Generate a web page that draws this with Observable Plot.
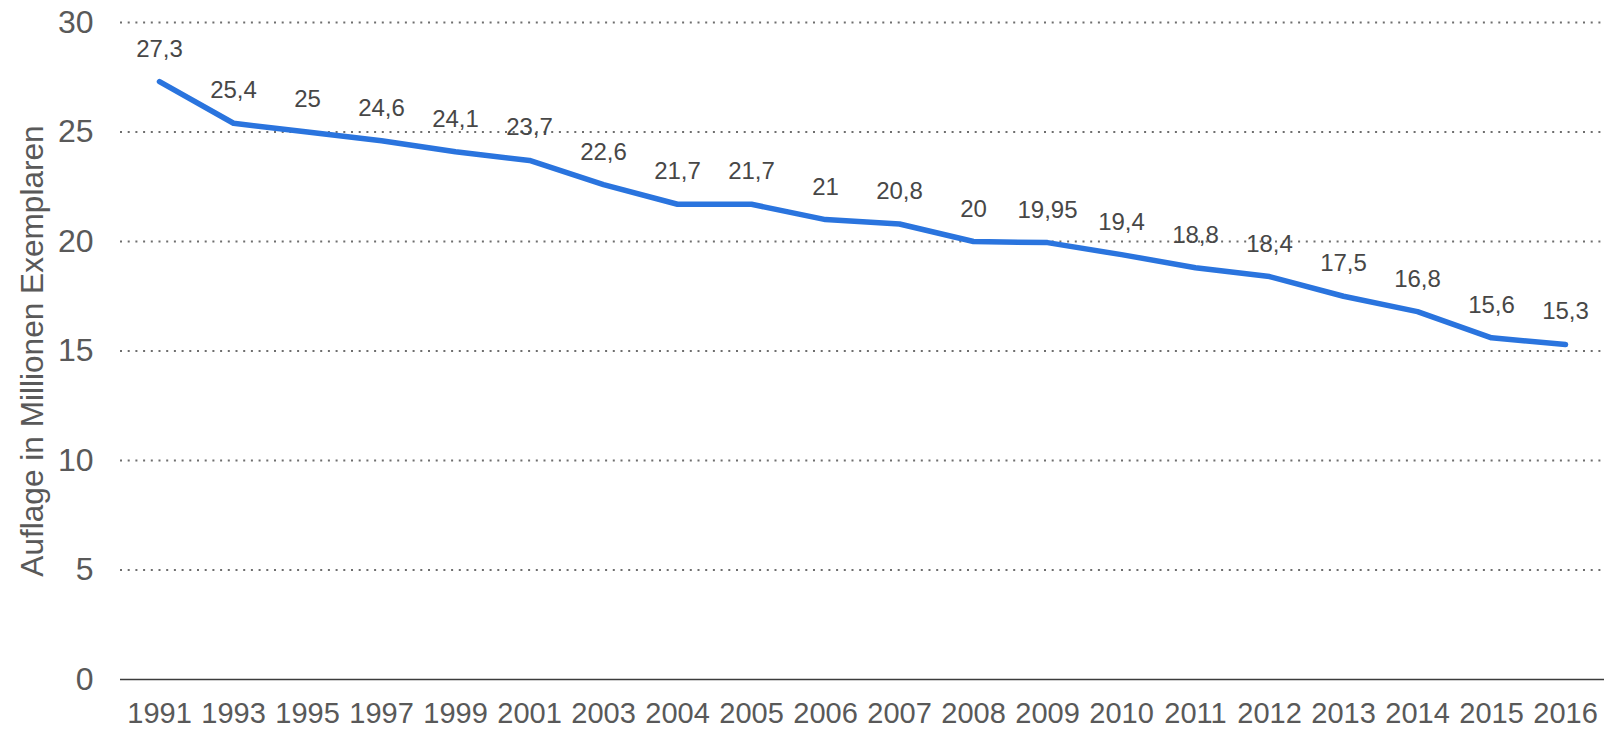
<!DOCTYPE html>
<html>
<head>
<meta charset="utf-8">
<script src="https://cdn.jsdelivr.net/npm/d3@7"></script>
<script src="https://cdn.jsdelivr.net/npm/@observablehq/plot@0.6"></script>
<style>
  html, body { margin: 0; padding: 0; background: #fff; }
  svg { display: block; }
</style>
</head>
<body>
<div id="chart"></div>
<script>
const years = ["1991","1993","1995","1997","1999","2001","2003","2004","2005","2006","2007","2008","2009","2010","2011","2012","2013","2014","2015","2016"];
const values = [27.3,25.4,25,24.6,24.1,23.7,22.6,21.7,21.7,21,20.8,20,19.95,19.4,18.8,18.4,17.5,16.8,15.6,15.3];
const yTicks = [0,5,10,15,20,25,30];
const gridTicks = [5,10,15,20,25,30];
const yTitle = "Auflage in Millionen Exemplaren";

const data = years.map((y, i) => ({year: y, value: values[i], label: String(values[i]).replace(".", ",")}));

const font = "'Liberation Sans', Arial, Helvetica, sans-serif";

const chart = Plot.plot({
  width: 1606,
  height: 729,
  marginLeft: 120,
  marginRight: 2,
  marginTop: 22,
  marginBottom: 50,
  style: {fontFamily: font, background: "#fff", color: "#595959"},
  x: {type: "point", domain: years, padding: 0.5},
  y: {domain: [0, 30]},
  marks: [
    Plot.ruleY(gridTicks, {stroke: "#6e6e6e", strokeWidth: 2, strokeDasharray: "2,5.7"}),
    Plot.ruleY([0], {stroke: "#3c3c3c", strokeWidth: 1.5}),
    Plot.axisX({tickSize: 0, tickPadding: 23, fontSize: 29, fill: "#595959", label: null}),
    Plot.axisY({ticks: yTicks, tickSize: 0, tickPadding: 27, fontSize: 32, fill: "#595959", label: null}),
    Plot.text([yTitle], {text: d => d, frameAnchor: "left", rotate: -90, textAnchor: "middle", lineAnchor: "top", dx: -100, fontSize: 31.6, fill: "#595959"}),
    Plot.lineY(data, {x: "year", y: "value", stroke: "#2a74de", strokeWidth: 5.5, strokeLinecap: "round", strokeLinejoin: "round"}),
    Plot.text(data, {x: "year", y: "value", text: "label", dy: -25, lineAnchor: "bottom", fontSize: 24, fill: "#474747"})
  ]
});
document.getElementById("chart").appendChild(chart);
</script>
</body>
</html>
